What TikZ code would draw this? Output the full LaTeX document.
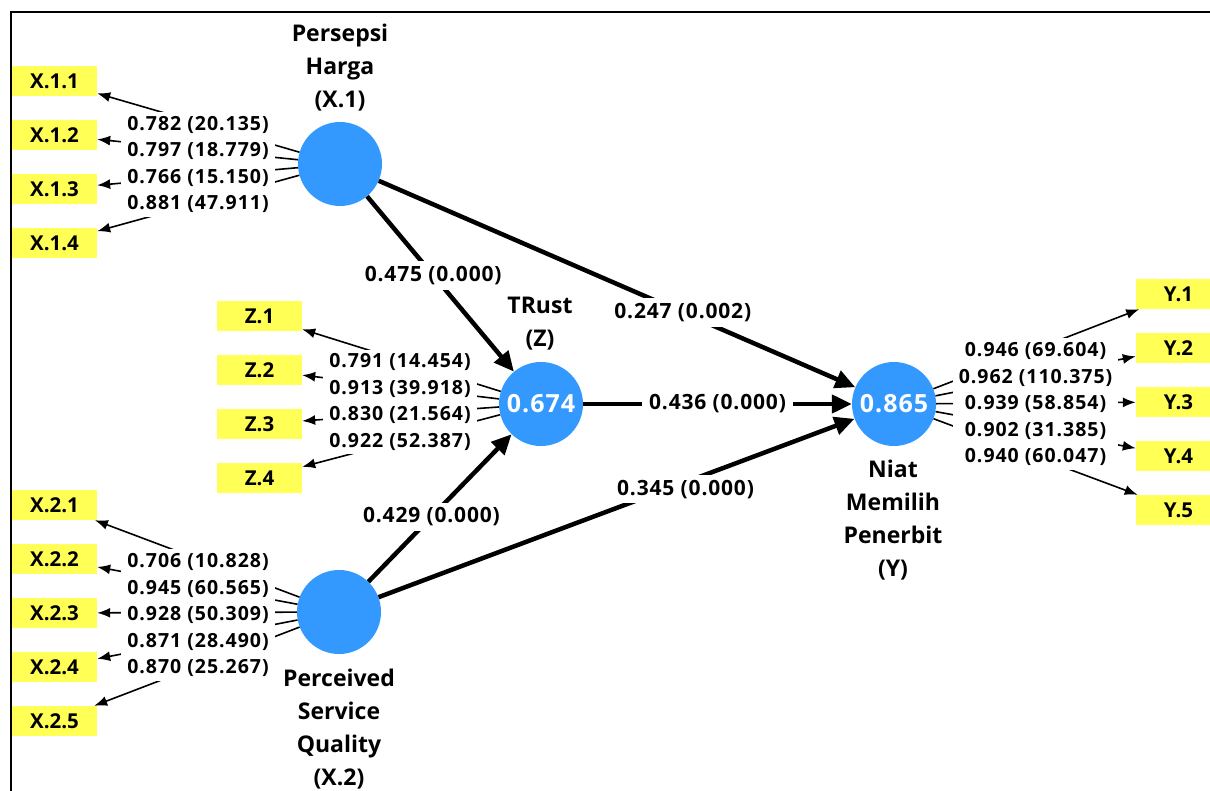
\documentclass[tikz,border=0pt]{standalone}
\usepackage{fontspec}
\setmainfont{Open Sans}
\newfontfamily\numf{Open Sans}[LetterSpace=5]
\newfontfamily\pnumf{Open Sans}[LetterSpace=4]
\newfontfamily\valf{Open Sans}[LetterSpace=4]
\usetikzlibrary{arrows.meta}
\definecolor{pblue}{RGB}{51,153,255}
\definecolor{pyellow}{RGB}{255,255,85}
\begin{document}
\begin{tikzpicture}[x=1pt,y=-1pt,
 lv/.style={circle, fill=pblue, minimum size=84pt, inner sep=0pt, text=white, font=\valf\bfseries\fontsize{25}{28}\selectfont},
 ind/.style={fill=pyellow, minimum width=85pt, minimum height=30pt, inner sep=0pt, font=\bfseries\fontsize{20.5}{24}\selectfont},
 lname/.style={align=center, inner sep=0pt, font=\bfseries\fontsize{23}{33}\selectfont},
 lblock/.style={align=center, fill=white, inner xsep=6pt, inner ysep=4pt, font=\numf\bfseries\fontsize{19.5}{26.5}\selectfont},
 ldarrow/.style={line width=1.6pt, -{Latex[length=13pt,width=10pt]}},
 sarrow/.style={line width=4.5pt, -{Triangle[length=20pt,width=18pt]}},
 plabel/.style={fill=white, inner xsep=7pt, inner ysep=5pt, font=\pnumf\bfseries\fontsize{21}{24}\selectfont},
]
\useasboundingbox (0,0) rectangle (1210,791);
\draw[line width=1.5pt] (11,791) -- (11,12) -- (1210,12);

% latent variables
\node[lv] (X1) at (340,164) {};
\node[lv] (Z) at (541,404) {0.674};
\node[lv] (Y) at (894,404) {0.865};
\node[lv] (X2) at (339,612) {};

% names
\node[lname] (nX1) at (340,68) {Persepsi\\Harga\\(X.1)};
\node[lname] (nZ) at (540,323.5) {TRust\\(Z)};
\node[lname] (nY) at (893,520) {Niat\\Memilih\\Penerbit\\(Y)};
\node[lname] (nX2) at (339,729) {Perceived\\Service\\Quality\\(X.2)};

% indicators
\node[ind] (x11) at (54.5,81) {X.1.1};
\node[ind] (x12) at (54.5,135) {X.1.2};
\node[ind] (x13) at (54.5,189) {X.1.3};
\node[ind] (x14) at (54.5,243) {X.1.4};
\node[ind] (x21) at (54.5,505) {X.2.1};
\node[ind] (x22) at (54.5,559) {X.2.2};
\node[ind] (x23) at (54.5,613) {X.2.3};
\node[ind] (x24) at (54.5,667) {X.2.4};
\node[ind] (x25) at (54.5,721) {X.2.5};
\node[ind] (z1) at (259.5,316) {Z.1};
\node[ind] (z2) at (259.5,370) {Z.2};
\node[ind] (z3) at (259.5,424) {Z.3};
\node[ind] (z4) at (259.5,478) {Z.4};
\node[ind] (y1) at (1178.5,294) {Y.1};
\node[ind] (y2) at (1178.5,348) {Y.2};
\node[ind] (y3) at (1178.5,402) {Y.3};
\node[ind] (y4) at (1178.5,456) {Y.4};
\node[ind] (y5) at (1178.5,510) {Y.5};

% loading lines
\foreach \t in {x11,x12,x13,x14} \draw[ldarrow] (X1) -- (\t);
\foreach \t in {x21,x22,x23,x24,x25} \draw[ldarrow] (X2) -- (\t);
\foreach \t in {z1,z2,z3,z4} \draw[ldarrow] (Z) -- (\t);
\foreach \t in {y1,y2,y3,y4,y5} \draw[ldarrow] (Y) -- (\t);

% loading label blocks
\node[lblock] (bX1) at (198,164.5) {0.782 (20.135)\\0.797 (18.779)\\0.766 (15.150)\\0.881 (47.911)};
\node[lblock] (bZ) at (400,402) {0.791 (14.454)\\0.913 (39.918)\\0.830 (21.564)\\0.922 (52.387)};
\node[lblock] (bX2) at (198,615) {0.706 (10.828)\\0.945 (60.565)\\0.928 (50.309)\\0.871 (28.490)\\0.870 (25.267)};
\node[lblock] (bY) at (1035.5,404) {0.946 (69.604)\\0.962 (110.375)\\0.939 (58.854)\\0.902 (31.385)\\0.940 (60.047)};

% structural paths
\draw[sarrow] (X1) -- node[plabel, pos=0.45] {0.475 (0.000)} (Z);
\draw[sarrow] (X1) -- node[plabel, pos=0.638] {0.247 (0.002)} (Y);
\draw[sarrow] (Z) -- node[plabel, pos=0.5] {0.436 (0.000)} (Y);
\draw[sarrow] (X2) -- node[plabel, pos=0.44] {0.429 (0.000)} (Z);
\draw[sarrow] (X2) -- node[plabel, pos=0.645, yshift=-7pt] {0.345 (0.000)} (Y);
\end{tikzpicture}
\end{document}
